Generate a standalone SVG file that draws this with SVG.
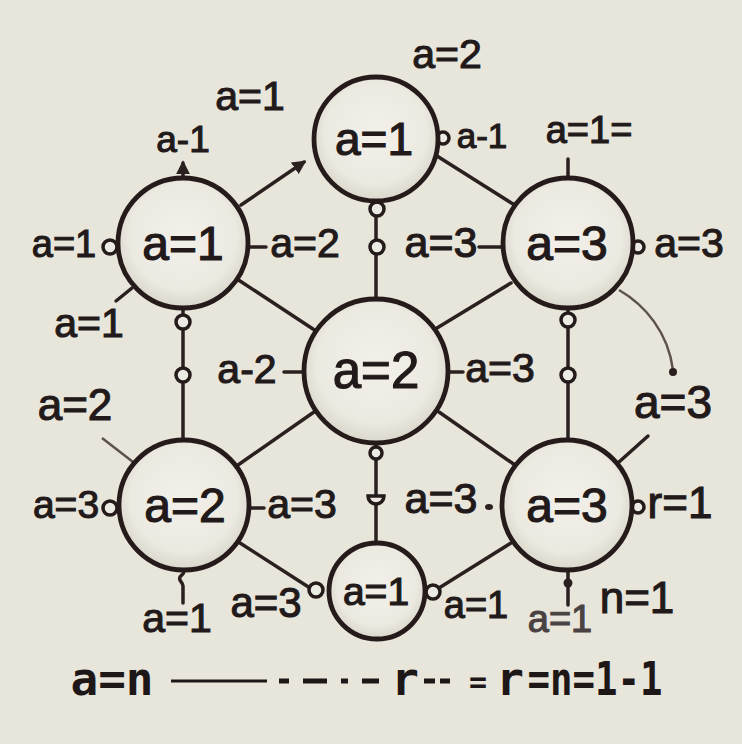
<svg xmlns="http://www.w3.org/2000/svg" width="742" height="744" viewBox="0 0 742 744">
<defs>
<radialGradient id="nodeFill" cx="50%" cy="45%" r="55%">
<stop offset="0" stop-color="#f2f0e9"/>
<stop offset="0.75" stop-color="#ebe9e0"/>
<stop offset="1" stop-color="#d9d6cb"/>
</radialGradient>
<marker id="arrow" viewBox="0 0 10 10" refX="8" refY="5" markerWidth="4" markerHeight="4" orient="auto-start-reverse">
<path d="M0,0 L10,5 L0,10 z" fill="#2a2020"/>
</marker>
<style>
.node { fill: url(#nodeFill); stroke: #251b1b; stroke-width: 4.8; }
.edge { stroke: #2a2020; stroke-width: 3.5; fill: none; stroke-linecap: round; }
.thin { stroke: #5e524e; stroke-width: 2.5; fill: none; }
.port { fill: #ecebe3; stroke: #251b1b; stroke-width: 3.5; }
.dot { fill: #2a2020; }
.lbl { font-family: "Liberation Sans", Arial, sans-serif; font-size: 41px; fill: #221a1a; stroke: #221a1a; stroke-width: 1.1; text-anchor: middle; }
.in { font-family: "Liberation Sans", Arial, sans-serif; font-size: 48px; fill: #221a1a; stroke: #221a1a; stroke-width: 1.2; text-anchor: middle; }
.mono { font-family: "DejaVu Sans Mono", "Liberation Mono", monospace; font-weight: bold; font-size: 46px; fill: #1e1717; text-anchor: middle; }
.dash { stroke: #1e1717; stroke-width: 5; }
</style>
</defs>
<rect width="742" height="744" fill="#e8e5da"/>

<g id="connectors">
<line class="edge" x1="241" y1="205" x2="304" y2="162" marker-end="url(#arrow)"/>
<line class="edge" x1="237" y1="279" x2="316" y2="331"/>
<line class="edge" x1="437" y1="156" x2="513" y2="204"/>
<line class="edge" x1="511" y1="283" x2="437" y2="328"/>
<line class="edge" x1="183" y1="308" x2="183" y2="440"/>
<line class="edge" x1="568" y1="308" x2="568" y2="440"/>
<line class="edge" x1="376" y1="200" x2="376" y2="299"/>
<line class="edge" x1="314" y1="412" x2="238" y2="465"/>
<line class="edge" x1="439" y1="412" x2="515" y2="465"/>
<line class="edge" x1="376" y1="445" x2="376" y2="543"/>
<line class="edge" x1="240" y1="543" x2="310" y2="588"/>
<line class="edge" x1="439" y1="588" x2="511" y2="543"/>
<line class="edge" x1="183" y1="177" x2="183" y2="163" marker-end="url(#arrow)"/>
<line class="edge" x1="568" y1="178" x2="568" y2="159"/>
<line class="edge" x1="248" y1="247" x2="266" y2="247"/>
<line class="edge" x1="132" y1="288" x2="116" y2="301"/>
<line class="edge" x1="479" y1="247" x2="502" y2="247"/>
<path class="thin" d="M619,290 C645,305 668,332 673,370"/>
<circle class="dot" cx="673" cy="372" r="4"/>
<line class="edge" x1="284" y1="372" x2="304" y2="372"/>
<line class="edge" x1="449" y1="372" x2="463" y2="372"/>
<line class="thin" x1="102" y1="438" x2="133" y2="462"/>
<line class="edge" x1="250" y1="508" x2="264" y2="508"/>
<path class="edge" d="M183,603 V586 c0,-4 -5,-5 -3,-9 c2,-3 5,-3 3,-6"/>
<line class="edge" x1="619" y1="462" x2="648" y2="436"/>
<line class="edge" x1="568" y1="570" x2="568" y2="605"/>
<circle class="dot" cx="568" cy="583" r="4.5"/>
<ellipse class="dot" cx="489" cy="507" rx="4" ry="3"/>
<circle class="port" cx="110" cy="247" r="7"/>
<circle class="port" cx="443" cy="138" r="6"/>
<circle class="port" cx="638" cy="247" r="6"/>
<circle class="port" cx="183" cy="322" r="7"/>
<circle class="port" cx="183" cy="375" r="7"/>
<circle class="port" cx="568" cy="320" r="7"/>
<circle class="port" cx="568" cy="375" r="7"/>
<circle class="port" cx="377" cy="209" r="7"/>
<circle class="port" cx="377" cy="247" r="7"/>
<circle class="port" cx="376" cy="453" r="6"/>
<path class="port" d="M368,496 h16 a8,8 0 0 1 -16,0 z"/>
<circle class="port" cx="110" cy="508" r="7"/>
<circle class="port" cx="638" cy="507" r="6"/>
<circle class="port" cx="316" cy="590" r="7"/>
<circle class="port" cx="433" cy="592" r="7"/>
</g>

<g id="node-top">
<circle class="node" cx="376" cy="139" r="62"/>
<text class="in" x="374" y="155" style="font-size:46px">a=1</text>
</g>
<g id="node-top-left">
<circle class="node" cx="183" cy="243" r="65"/>
<text class="in" x="183" y="260">a=1</text>
</g>
<g id="node-top-right">
<circle class="node" cx="568" cy="243" r="65"/>
<text class="in" x="567" y="260">a=3</text>
</g>
<g id="node-center">
<circle class="node" cx="376" cy="371" r="72"/>
<text class="in" x="376" y="388" style="font-size:51px">a=2</text>
</g>
<g id="node-bottom-left">
<circle class="node" cx="184" cy="505" r="65"/>
<text class="in" x="185" y="522">a=2</text>
</g>
<g id="node-bottom-right">
<circle class="node" cx="567" cy="505" r="65"/>
<text class="in" x="567" y="522">a=3</text>
</g>
<g id="node-bottom">
<circle class="node" cx="377" cy="591" r="48"/>
<text class="in" x="376" y="605" style="font-size:39px">a=1</text>
</g>

<g id="labels">
<text class="lbl" x="250" y="110">a=1</text>
<text class="lbl" x="183" y="152" style="font-size:37px">a-1</text>
<text class="lbl" x="447" y="68">a=2</text>
<text class="lbl" x="482" y="148" style="font-size:35px">a-1</text>
<text class="lbl" x="589" y="143" style="font-size:38px">a=1=</text>
<text class="lbl" x="64" y="257" style="font-size:38px">a=1</text>
<text class="lbl" x="305" y="257">a=2</text>
<text class="lbl" x="441" y="257" style="font-size:43px">a=3</text>
<text class="lbl" x="689" y="257">a=3</text>
<text class="lbl" x="89" y="337">a=1</text>
<text class="lbl" x="247" y="383">a-2</text>
<text class="lbl" x="500" y="382">a=3</text>
<text class="lbl" x="75" y="420" style="font-size:44px">a=2</text>
<text class="lbl" x="673" y="418" style="font-size:46px">a=3</text>
<text class="lbl" x="66" y="518" style="font-size:39px">a=3</text>
<text class="lbl" x="302" y="518">a=3</text>
<text class="lbl" x="441" y="513" style="font-size:43px">a=3</text>
<text class="lbl" x="680" y="518" style="font-size:44px">r=1</text>
<text class="lbl" x="177" y="632">a=1</text>
<text class="lbl" x="266" y="617" style="font-size:42px">a=3</text>
<text class="lbl" x="476" y="618" style="font-size:38px">a=1</text>
<text class="lbl" x="560" y="632" style="font-size:38px;fill:#4a4242;stroke:#4a4242">a=1</text>
<text class="lbl" x="637" y="613" style="font-size:44px">n=1</text>
</g>

<g id="legend">
<text class="mono" x="112" y="695">a=n</text>
<line x1="171" y1="681" x2="267" y2="681" stroke="#1e1717" stroke-width="3"/>
<line class="dash" x1="279" y1="681" x2="289" y2="681"/>
<line class="dash" x1="303" y1="681" x2="327" y2="681"/>
<line class="dash" x1="341" y1="681" x2="348" y2="681"/>
<line class="dash" x1="362" y1="681" x2="379" y2="681"/>
<text class="mono" x="405" y="695">r</text>
<line class="dash" x1="424" y1="681" x2="435" y2="681"/>
<line class="dash" x1="440" y1="681" x2="450" y2="681"/>
<text class="mono" x="478" y="692" style="font-size:30px">=</text>
<text class="mono" x="510" y="695">r</text>
<text class="mono" x="595" y="695" textLength="135" lengthAdjust="spacingAndGlyphs">=n=1-1</text>
</g>
</svg>
